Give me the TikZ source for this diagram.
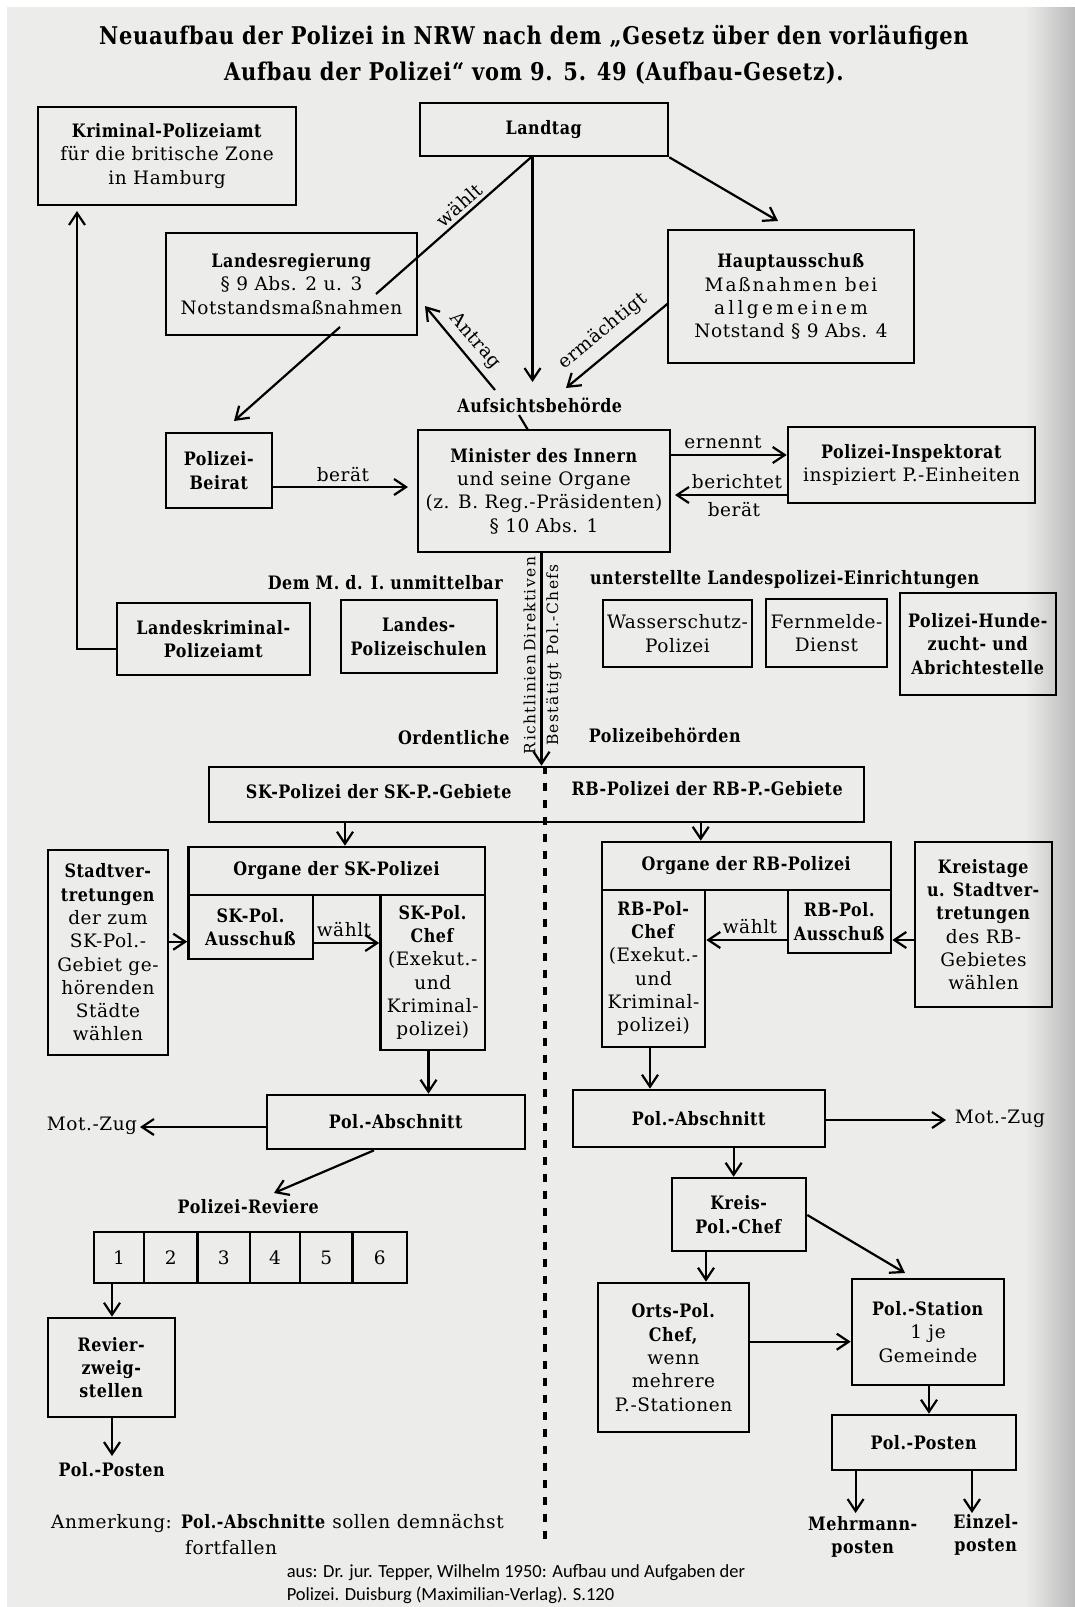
\documentclass[tikz,border=0pt]{standalone}
\usepackage{fontspec}
\setmainfont{DejaVu Serif}[LetterSpace=3,BoldFeatures={FakeStretch=0.86}]
\newfontfamily\citefont{Carlito}
\usetikzlibrary{arrows.meta,calc}
\newcommand\boxfont{\fontsize{18.5}{23.3}\selectfont}
\newcommand\titlefont{\fontsize{24.4}{27}\selectfont\bfseries}
\newcommand\rotfont{\fontsize{15.5}{17}\selectfont}
\definecolor{bgc}{RGB}{236,236,234}
\begin{document}
\begin{tikzpicture}[x=1pt,y=-1pt,
  >={Straight Barb[length=12pt,width=16pt]},
  box/.style={draw,line width=2.6pt,align=center,inner sep=0pt,font=\boxfont},
  con/.style={line width=2.2pt},
  lbl/.style={font=\boxfont,inner sep=1pt,align=center},
  dashline/.style={line width=3.4pt,dash pattern=on 8pt off 9pt}]
\useasboundingbox (0,0) rectangle (1075,1607);
% background
\fill[white] (0,0) rectangle (1075,1607);
\fill[bgc] (7,7) rectangle (1075,1607);
\shade[left color=bgc,right color=gray!55] (1025,7) rectangle (1075,1607);

% title
\node[font=\titlefont,inner sep=0pt] (title1) at (534,38) {Neuaufbau der Polizei in NRW nach dem „Gesetz über den vorläufigen};
\node[font=\titlefont,inner sep=0pt] (title2) at (534,73) {Aufbau der Polizei“ vom 9. 5. 49 (Aufbau-Gesetz).};

% boxes
\node[box,minimum width=258pt,minimum height=98pt] (krim) at (167,156) {\textbf{Kriminal-Polizeiamt}\\für die britische Zone\\in Hamburg};
\node[box,minimum width=248pt,minimum height=53pt] (landtag) at (544,129.5) {\textbf{Landtag}};
\node[box,minimum width=251pt,minimum height=102pt] (landesreg) at (291.5,284) {\textbf{Landesregierung}\\§ 9 Abs. 2 u. 3\\Notstandsmaßnahmen};
\node[box,minimum width=246pt,minimum height=133pt] (haupt) at (791,296.5) {\textbf{Hauptausschuß}\\{\addfontfeature{LetterSpace=10}Maßnahmen bei}\\{\addfontfeature{LetterSpace=18}allgemeinem}\\Notstand § 9 Abs. 4};
\node[box,minimum width=106pt,minimum height=75pt] (beirat) at (219,470.5) {\textbf{Polizei-}\\\textbf{Beirat}};
\node[box,minimum width=252pt,minimum height=122pt] (minister) at (544,491) {\textbf{Minister des Innern}\\und seine Organe\\(z. B. Reg.-Präsidenten)\\§ 10 Abs. 1};
\node[box,minimum width=247pt,minimum height=76pt] (inspekt) at (911.5,465) {\textbf{Polizei-Inspektorat}\\inspiziert P.-Einheiten};
\node[box,minimum width=193pt,minimum height=72pt] (lkpa) at (213.5,639) {\textbf{Landeskriminal-}\\\textbf{Polizeiamt}};
\node[box,minimum width=156pt,minimum height=73pt] (schulen) at (419,636.5) {\textbf{Landes-}\\\textbf{Polizeischulen}};
\node[box,minimum width=149pt,minimum height=67pt] (wasser) at (677.5,633.5) {Wasserschutz-\\Polizei};
\node[box,minimum width=121pt,minimum height=68pt] (fernm) at (826.5,633) {Fernmelde-\\Dienst};
\node[box,minimum width=156pt,minimum height=102pt] (hunde) at (978,644) {\textbf{Polizei-Hunde-}\\\textbf{zucht- und}\\\textbf{Abrichtestelle}};
\node[box,minimum width=655pt,minimum height=55pt] (skrb) at (536.5,794.5) {};
\node[box,minimum width=120pt,minimum height=205pt] (stadtv) at (108,952.5) {\textbf{Stadtver-}\\\textbf{tretungen}\\der zum\\SK-Pol.-\\Gebiet ge-\\hörenden\\Städte\\wählen};
\node[box,minimum width=296.5pt,minimum height=48pt] (orgsk) at (336.75,871) {\textbf{Organe der SK-Polizei}};
\node[box,minimum width=124.5pt,minimum height=64pt] (skaus) at (250.75,927) {\textbf{SK-Pol.}\\\textbf{Ausschuß}};
\node[box,minimum width=104.5pt,minimum height=155pt] (skchef) at (432.75,972.5) {\textbf{SK-Pol.}\\\textbf{Chef}\\(Exekut.-\\und\\Kriminal-\\polizei)};
\node[box,minimum width=289pt,minimum height=48pt] (orgrb) at (746.5,866) {\textbf{Organe der RB-Polizei}};
\node[box,minimum width=103pt,minimum height=157pt] (rbchef) at (653.5,968.5) {\textbf{RB-Pol-}\\\textbf{Chef}\\(Exekut.-\\und\\Kriminal-\\polizei)};
\node[box,minimum width=103pt,minimum height=63pt] (rbaus) at (839.5,921.5) {\textbf{RB-Pol.}\\\textbf{Ausschuß}};
\node[box,minimum width=137pt,minimum height=165pt] (kreistage) at (983.5,924.5) {\textbf{Kreistage}\\\textbf{u. Stadtver-}\\\textbf{tretungen}\\des RB-\\Gebietes\\wählen};
\node[box,minimum width=258pt,minimum height=54pt] (absk) at (396,1122) {\textbf{Pol.-Abschnitt}};
\node[box,minimum width=252pt,minimum height=57pt] (abrb) at (699,1118.5) {\textbf{Pol.-Abschnitt}};
\node[box,minimum width=50pt,minimum height=51pt] (c1) at (119,1257.5) {1};
\node[box,minimum width=53.5pt,minimum height=51pt] (c2) at (170.75,1257.5) {2};
\node[box,minimum width=52.5pt,minimum height=51pt] (c3) at (223.75,1257.5) {3};
\node[box,minimum width=50pt,minimum height=51pt] (c4) at (275,1257.5) {4};
\node[box,minimum width=52.5pt,minimum height=51pt] (c5) at (326.25,1257.5) {5};
\node[box,minimum width=54.5pt,minimum height=51pt] (c6) at (379.75,1257.5) {6};
\node[box,minimum width=127pt,minimum height=99pt] (revzw) at (111.5,1367.5) {\textbf{Revier-}\\\textbf{zweig-}\\\textbf{stellen}};
\node[box,minimum width=134pt,minimum height=73pt] (kreis) at (739,1214.5) {\textbf{Kreis-}\\\textbf{Pol.-Chef}};
\node[box,minimum width=151pt,minimum height=149pt] (orts) at (673.5,1357.5) {\textbf{Orts-Pol.}\\\textbf{Chef,}\\wenn\\mehrere\\P.-Stationen};
\node[box,minimum width=152pt,minimum height=106pt] (station) at (928,1332) {\textbf{Pol.-Station}\\1 je\\Gemeinde};
\node[box,minimum width=184pt,minimum height=55pt] (posten) at (924,1442.5) {\textbf{Pol.-Posten}};

% free text
\node[lbl] (aufs) at (540,405) {\textbf{Aufsichtsbehörde}};
\node[lbl] (dem) at (385.6,583) {\textbf{Dem M. d. I. unmittelbar}};
\node[lbl] (unt) at (785,580) {\textbf{unterstellte Landespolizei-Einrichtungen}};
\node[lbl] (ord) at (454,738) {\textbf{Ordentliche}};
\node[lbl] (pbh) at (665,735) {\textbf{Polizeibehörden}};
\node[lbl] (sktxt) at (379,792) {\textbf{SK-Polizei der SK-P.-Gebiete}};
\node[lbl] (rbtxt) at (707.5,789) {\textbf{RB-Polizei der RB-P.-Gebiete}};
\node[lbl,inner sep=0pt] (motl) at (92,1126) {Mot.-Zug};
\node[lbl,inner sep=0pt] (motr) at (1000,1119) {Mot.-Zug};
\node[lbl] (rev) at (248.5,1207) {\textbf{Polizei-Reviere}};
\node[lbl] (ppl) at (112,1470) {\textbf{Pol.-Posten}};
\node[lbl,anchor=west,inner sep=0pt] (anm1) at (51,1523) {Anmerkung: \textbf{Pol.-Abschnitte} sollen demnächst};
\node[lbl,anchor=west,inner sep=0pt] (anm2) at (185,1548) {fortfallen};
\node[lbl] (mehr) at (863,1537) {\textbf{Mehrmann-}\\\textbf{posten}};
\node[lbl] (einz) at (986,1535) {\textbf{Einzel-}\\\textbf{posten}};
\node[anchor=west,align=left,inner sep=0pt,font={\citefont\fontsize{18.5}{23}\selectfont}] (cite) at (286.6,1584.5) {aus: Dr. jur. Tepper, Wilhelm 1950: Aufbau und Aufgaben der\\Polizei. Duisburg (Maximilian-Verlag). S.120};
\node[font=\rotfont,rotate=90,inner sep=0pt] (richt) at (529.7,655.5) {{\addfontfeature{LetterSpace=9}Richtlinien\,Direktiven}};
\node[font=\rotfont,rotate=90,inner sep=0pt] (best) at (554,655) {{\addfontfeature{LetterSpace=9}Bestätigt\enspace Pol.-Chefs}};

% coordinates
\coordinate (k1) at (77,649);
\coordinate (k2) at (77,211);
\coordinate (a0) at (532.5,156);
\coordinate (a1) at (532.5,382);
\coordinate (w1) at (376,294);
\coordinate (w2) at (340,327);
\coordinate (w3) at (234,421);
\coordinate (h1) at (778,221);
\coordinate (an0) at (495,390);
\coordinate (an1) at (425,306);
\coordinate (e0) at (668.5,303);
\coordinate (e1) at (566,388);
\coordinate (t0) at (519,415);
\coordinate (t1) at (528,430);
\coordinate (b1) at (408,487);
\coordinate (n1) at (0,455);
\coordinate (r1) at (675,495);
\coordinate (v1) at (541.5,0);
\coordinate (d1) at (545,0);
\coordinate (d2) at (545,1547);
\coordinate (o1) at (345,0);
\coordinate (o2) at (700.7,0);
\coordinate (s1) at (0,941.7);
\coordinate (s2) at (0,943);
\coordinate (r2) at (0,940);
\coordinate (x1) at (428.5,0);
\coordinate (x2) at (650,0);
\coordinate (m1) at (140,1127);
\coordinate (m2) at (946,1120);
\coordinate (p0) at (374,0);
\coordinate (p1) at (274,1193);
\coordinate (q1) at (112,0);
\coordinate (q2) at (112,1456);
\coordinate (y1) at (733.6,0);
\coordinate (y2) at (706,0);
\coordinate (z0) at (0,1215);
\coordinate (z1) at (905,1273);
\coordinate (g1) at (0,1341.7);
\coordinate (g2) at (929,0);
\coordinate (u1) at (855.6,1513);
\coordinate (u2) at (972,1513);

% connectors
\draw[con,->] (lkpa.west |- k1) -- (k1) -- (k2);
\draw[con,->] (a0) -- (a1);
\draw[con] (a0) -- (w1);
\draw[con,->] (w2) -- (w3);
\node[lbl,rotate=41.7] (wl) at (459,205) {wählt};
\draw[con,->] (landtag.south east) -- (h1);
\draw[con,->] (an0) -- (an1);
\node[lbl,rotate=-49.5] (antl) at (475,341) {Antrag};
\draw[con,->] (e0) -- (e1);
\node[lbl,rotate=39.5] (erml) at (603,331) {ermächtigt};
\draw[con] (t0) -- (t1);
\draw[con,->] (beirat.east |- b1) -- (b1);
\node[lbl] (ber1) at (343,475) {berät};
\draw[con,->] (minister.east |- n1) -- (inspekt.west |- n1);
\node[lbl] (ern) at (723,442) {ernennt};
\draw[con,->] (inspekt.west |- r1) -- (r1);
\node[lbl] (brt) at (737,482) {berichtet};
\node[lbl] (ber2) at (734,510) {berät};
\draw[con,->] (minister.south -| v1) -- (skrb.north -| v1);
\draw[dashline] (skrb.north -| d1) -- (d2);
\draw[con,->] (skrb.south -| o1) -- (orgsk.north -| o1);
\draw[con,->] (skrb.south -| o2) -- (orgrb.north -| o2);
\draw[con,->] (stadtv.east |- s1) -- (skaus.west |- s1);
\draw[con,->] (skaus.east |- s2) -- (skchef.west |- s2);
\node[lbl] (wsk) at (344,930) {wählt};
\draw[con,->] (rbaus.west |- r2) -- (rbchef.east |- r2);
\node[lbl] (wrb) at (750,927) {wählt};
\draw[con,->] (kreistage.west |- r2) -- (rbaus.east |- r2);
\draw[con,->] (skchef.south -| x1) -- (absk.north -| x1);
\draw[con,->] (rbchef.south -| x2) -- (abrb.north -| x2);
\draw[con,->] (absk.west |- m1) -- (m1);
\draw[con,->] (abrb.east |- m2) -- (m2);
\draw[con,->] (absk.south -| p0) -- (p1);
\draw[con,->] (c1.south -| q1) -- (revzw.north -| q1);
\draw[con,->] (revzw.south -| q1) -- (q2);
\draw[con,->] (abrb.south -| y1) -- (kreis.north -| y1);
\draw[con,->] (kreis.south -| y2) -- (orts.north -| y2);
\draw[con,->] (kreis.east |- z0) -- (z1);
\draw[con,->] (orts.east |- g1) -- (station.west |- g1);
\draw[con,->] (station.south -| g2) -- (posten.north -| g2);
\draw[con,->] (posten.south -| u1) -- (u1);
\draw[con,->] (posten.south -| u2) -- (u2);
\end{tikzpicture}
\end{document}
